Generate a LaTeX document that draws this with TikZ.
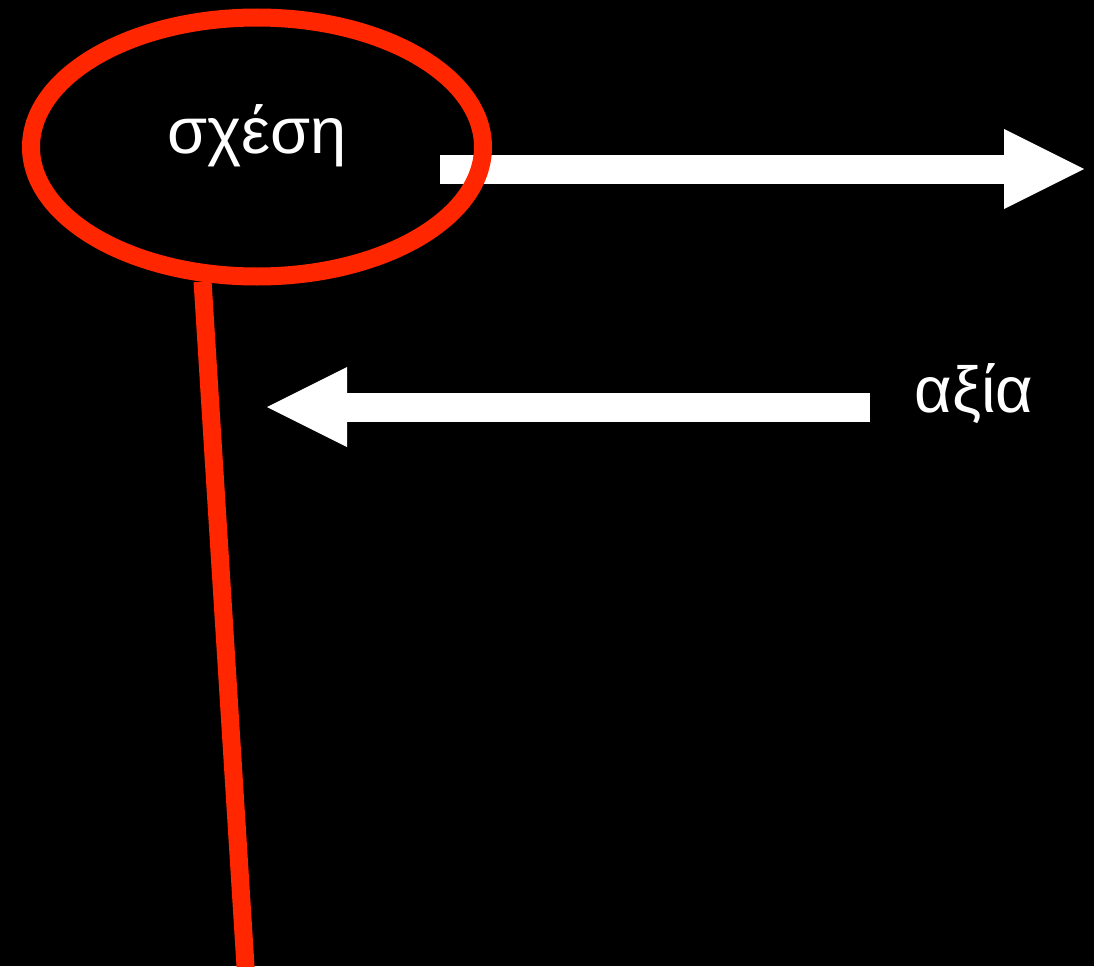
\documentclass[tikz,border=0pt]{standalone}
\usepackage{fontspec}
\setmainfont{Liberation Sans}
\usetikzlibrary{arrows.meta,shapes.geometric}
\definecolor{ringred}{RGB}{255,38,0}

\begin{document}
\begin{tikzpicture}[x=1pt,y=-1pt,
word/.style={text=white,font=\fontsize{65}{78}\selectfont,inner sep=0pt,anchor=base},
ring/.style={ellipse,draw=ringred,line width=18pt,minimum width=452pt,minimum height=259pt},
fat arrow/.style={draw=white,line width=29pt,-{Triangle[length=80pt,width=80pt,line width=0pt]}}]

\fill[black] (0,0) rectangle (1094,966);
\useasboundingbox (0,0) rectangle (1094,966);

\coordinate (relStart) at (440,169);
\coordinate (relEnd) at (1084,169);
\coordinate (valStart) at (870,407);
\coordinate (valEnd) at (267,407);
\coordinate (stemEnd) at (247,990);

\draw[fat arrow] (relStart) -- (relEnd);
\draw[fat arrow] (valStart) -- (valEnd);

\node[ring] (rel) at (257,147) {};
\node[word] (relText) at (257,153) {σχέση};
\node[word] (val) at (974,412) {αξία};

\draw[ringred,line width=18pt] (rel.248) -- (stemEnd);

\end{tikzpicture}
\end{document}
